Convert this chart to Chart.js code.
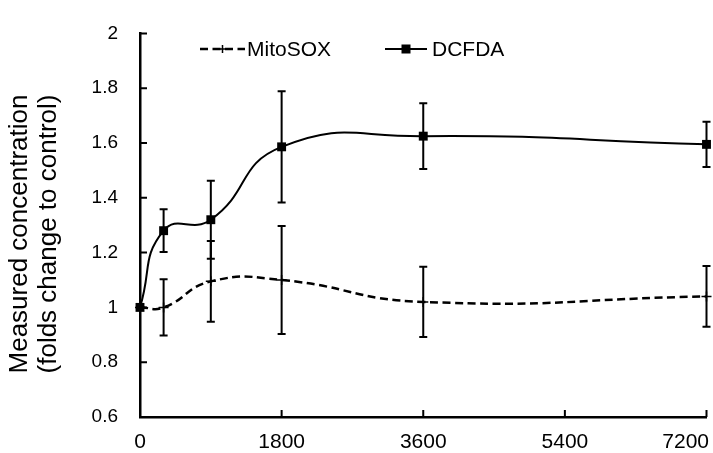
<!DOCTYPE html>
<html><head><meta charset="utf-8">
<script src="https://cdn.jsdelivr.net/npm/chart.js@4.4.0/dist/chart.umd.min.js"></script>
<style>html,body{margin:0;padding:0;background:#fff;}canvas{display:block;}</style>
</head><body>
<canvas id="c" width="713" height="453"></canvas>
<script>
const times = [0, 300, 900, 1800, 3600, 7200];
const mitoSOX = [1.0, 1.0, 1.095, 1.10, 1.02, 1.04];
const mitoSOXErr = [0, 0.103, 0.147, 0.197, 0.128, 0.111];
const dcfda = [1.0, 1.28, 1.32, 1.586, 1.625, 1.595];
const dcfdaErr = [0, 0.078, 0.142, 0.203, 0.12, 0.083];
const xTicks = [0, 1800, 3600, 5400, 7200];
const yTicks = [0.6, 0.8, 1.0, 1.2, 1.4, 1.6, 1.8, 2.0];
const seriesNames = ['MitoSOX', 'DCFDA'];
const yTitle = ['Measured concentration', '(folds change to control)'];

const FONT = '"Liberation Sans", Arial, sans-serif';
Chart.defaults.font.family = FONT;
Chart.defaults.color = '#000';

function drawMarker(ctx, style, x, y) {
  ctx.save();
  ctx.setLineDash([]);
  if (style === 'rect') {
    ctx.fillStyle = '#000';
    ctx.fillRect(x - 4.5, y - 4.5, 9, 9);
  } else {
    ctx.strokeStyle = '#000'; ctx.lineWidth = 1.5;
    ctx.beginPath();
    ctx.moveTo(x - 5, y); ctx.lineTo(x + 5, y);
    ctx.moveTo(x, y - 4); ctx.lineTo(x, y + 4);
    ctx.stroke();
  }
  ctx.restore();
}

const decor = {
  id: 'decor',
  afterDatasetsDraw(chart) {
    const { ctx, scales: { x, y } } = chart;
    const sets = [[mitoSOX, mitoSOXErr], [dcfda, dcfdaErr]];
    ctx.save();
    ctx.strokeStyle = '#000'; ctx.lineWidth = 2; ctx.setLineDash([]);
    sets.forEach(([vals, errs]) => {
      vals.forEach((v, i) => {
        const e = errs[i]; if (!e) return;
        const px = x.getPixelForValue(times[i]);
        const t = y.getPixelForValue(v + e), b = y.getPixelForValue(v - e);
        ctx.beginPath();
        ctx.moveTo(px, t); ctx.lineTo(px, b);
        ctx.moveTo(px - 4, t); ctx.lineTo(px + 4, t);
        ctx.moveTo(px - 4, b); ctx.lineTo(px + 4, b);
        ctx.stroke();
      });
    });
    ctx.restore();
  },
  afterDraw(chart) {
    const { ctx, scales: { x, y }, chartArea: ca } = chart;
    ctx.save();
    ctx.strokeStyle = '#000'; ctx.lineWidth = 2; ctx.setLineDash([]);
    // inward tick marks
    ctx.beginPath();
    y.ticks.forEach(t => {
      if (t.value <= y.min) return;
      const py = y.getPixelForValue(t.value);
      ctx.moveTo(ca.left, py); ctx.lineTo(ca.left + 7, py);
    });
    x.ticks.forEach(t => {
      if (t.value <= x.min) return;
      const px = x.getPixelForValue(t.value);
      ctx.moveTo(px, ca.bottom); ctx.lineTo(px, ca.bottom - 7);
    });
    ctx.stroke();
    // x tick labels
    ctx.fillStyle = '#000';
    ctx.font = '21px ' + FONT;
    ctx.textAlign = 'center'; ctx.textBaseline = 'middle';
    x.ticks.forEach(t => {
      const label = String(t.value);
      const w = ctx.measureText(label).width;
      let px = x.getPixelForValue(t.value);
      px = Math.min(px, chart.width - 4 - w / 2);
      ctx.fillText(label, px, 442);
    });
    // legend
    ctx.font = '21px ' + FONT;
    ctx.textAlign = 'left';
    const items = [
      { x0: 200, x1: 245, tx: 247, ds: chart.data.datasets[0] },
      { x0: 385, x1: 427, tx: 432, ds: chart.data.datasets[1] }
    ];
    const ly = 49;
    items.forEach(it => {
      ctx.save();
      ctx.lineWidth = it.ds.borderWidth;
      ctx.setLineDash(it.ds.borderDash || []);
      ctx.beginPath(); ctx.moveTo(it.x0, ly); ctx.lineTo(it.x1, ly); ctx.stroke();
      ctx.restore();
      drawMarker(ctx, it.ds.pointStyle, (it.x0 + it.x1) / 2, ly);
      ctx.fillText(it.ds.label, it.tx, ly + 1);
    });
    // y title
    ctx.save();
    ctx.translate(0, 234);
    ctx.rotate(-Math.PI / 2);
    ctx.font = '26px ' + FONT;
    ctx.textAlign = 'center'; ctx.textBaseline = 'middle';
    ctx.fillText(yTitle[0], 0, 20);
    ctx.fillText(yTitle[1], 0, 49);
    ctx.restore();
    ctx.restore();
  }
};

new Chart(document.getElementById('c'), {
  type: 'line',
  data: {
    datasets: [
      {
        label: seriesNames[0],
        data: times.map((t, i) => ({ x: t, y: mitoSOX[i] })),
        borderColor: '#000', borderWidth: 2.5, borderDash: [8, 4.5],
        pointStyle: 'cross', pointRadius: 5, pointBorderWidth: 1.5,
        pointBorderColor: '#000', pointBackgroundColor: '#000',
        tension: 0.5, fill: false, clip: false
      },
      {
        label: seriesNames[1],
        data: times.map((t, i) => ({ x: t, y: dcfda[i] })),
        borderColor: '#000', borderWidth: 2,
        pointStyle: 'rect', pointRadius: 6.3, pointBorderWidth: 0,
        pointBorderColor: '#000', pointBackgroundColor: '#000',
        tension: 0.5, fill: false, clip: false
      }
    ]
  },
  options: {
    responsive: false, animation: false, devicePixelRatio: 1,
    layout: { padding: { left: 0, right: 1, top: 25, bottom: 0 } },
    plugins: { legend: { display: false }, tooltip: { enabled: false } },
    scales: {
      x: {
        type: 'linear', min: 0, max: 7200,
        afterBuildTicks: s => { s.ticks = xTicks.map(v => ({ value: v })); },
        afterFit: s => { s.height = 36; s.paddingLeft = 0; s.paddingRight = 0; },
        ticks: { display: false },
        grid: { display: false, drawTicks: false },
        border: { display: true, color: '#000', width: 2.5 }
      },
      y: {
        type: 'linear', min: 0.6, max: 2,
        afterBuildTicks: s => { s.ticks = yTicks.map(v => ({ value: v })); },
        afterFit: s => { s.width = 140; },
        ticks: {
          padding: 22, color: '#000',
          font: { size: 19, family: FONT },
          callback: v => String(Math.round(v * 10) / 10)
        },
        grid: { display: false, drawTicks: false },
        border: { display: true, color: '#000', width: 2.5 }
      }
    }
  },
  plugins: [decor]
});
</script>
</body></html>
